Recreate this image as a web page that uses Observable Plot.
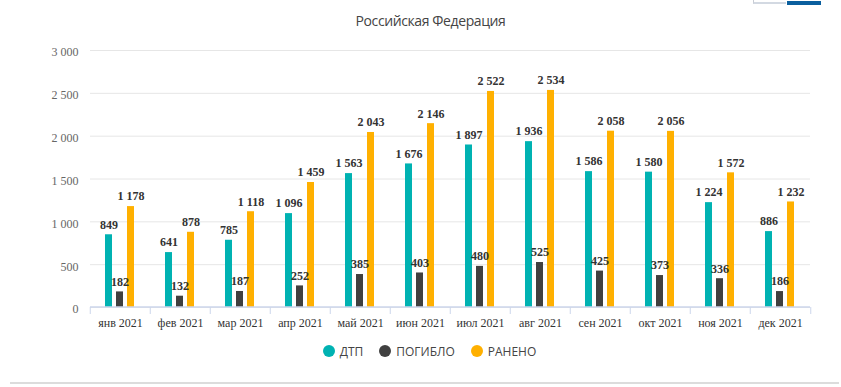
<!DOCTYPE html>
<html>
<head>
<meta charset="utf-8">
<script src="https://cdn.jsdelivr.net/npm/d3@7"></script>
<script src="https://cdn.jsdelivr.net/npm/@observablehq/plot@0.6"></script>
<style>
  body { margin: 0; background: #fff; width: 841px; height: 387px; position: relative; overflow: hidden; }
  #title { height: 30px; padding-top: 13px; padding-left: 20px; box-sizing: border-box; text-align: center;
           font: 14px "Open Sans", sans-serif; letter-spacing: -0.4px; color: #444; line-height: 16px; }
  #chart { position: absolute; left: 0; top: 30px; }
  #legend { position: absolute; left: 18px; right: 0; top: 340px; height: 22px; display: flex;
            justify-content: center; align-items: center; font: 12px "Open Sans", sans-serif; color: #444; }
  .item { display: flex; align-items: center; margin: 0 8px; }
  .dot { width: 12px; height: 12px; border-radius: 6px; margin-right: 5px; }
  #bottomline { position: absolute; left: 10px; width: 829px; top: 382px; height: 2px; background: #dcdcdc; }
  #btn1 { position: absolute; left: 753px; top: 0; width: 33px; height: 4px; border-left: 1px solid #c8ccd4; border-bottom: 2px solid #d3d9e2; box-sizing: border-box; }
  #btn2 { position: absolute; left: 787px; top: 1px; width: 34px; height: 4px; background: #0a5f9e; }
</style>
</head>
<body>
<div id="btn1"></div><div id="btn2"></div>
<div id="title">Российская Федерация</div>
<div id="chart"></div>
<div id="legend"></div>
<div id="bottomline"></div>
<script>
const months = ["янв 2021","фев 2021","мар 2021","апр 2021","май 2021","июн 2021","июл 2021","авг 2021","сен 2021","окт 2021","ноя 2021","дек 2021"];
const series = ["ДТП","ПОГИБЛО","РАНЕНО"];
const colors = ["#00b2b2","#404040","#ffb000"];
const dtp     = [849, 641, 785, 1096, 1563, 1676, 1897, 1936, 1586, 1580, 1224, 886];
const killed  = [182, 132, 187, 252, 385, 403, 480, 525, 425, 373, 336, 186];
const injured = [1178, 878, 1118, 1459, 2043, 2146, 2522, 2534, 2058, 2056, 1572, 1232];
const yTicks = [0, 500, 1000, 1500, 2000, 2500, 3000];

const values = [dtp, killed, injured];
const data = [];
months.forEach((m, i) => series.forEach((s, j) => data.push({month: m, series: s, value: values[j][i]})));

const fmt = d3.formatLocale({decimal: ",", thousands: " ", grouping: [3], currency: ["", ""]}).format(",d");

const W = 841, mL = 87, mR = 28;
const half = (W - mL - mR) / months.length / 2;

const chart = Plot.plot({
  width: W,
  height: 310,
  marginTop: 20,
  marginBottom: 33,
  marginLeft: mL,
  marginRight: mR,
  style: {fontFamily: "'Liberation Serif', serif", fontSize: "12px", background: "transparent"},
  fx: {domain: months, padding: 0, label: null},
  x: {domain: series, axis: null, paddingInner: 1/3, paddingOuter: 1.19},
  y: {domain: [0, 3000], label: null},
  color: {domain: series, range: colors},
  marks: [
    Plot.gridY(yTicks, {stroke: "#e6e6e6", strokeOpacity: 1}),
    Plot.axisY(yTicks, {tickSize: 0, tickPadding: 12, tickFormat: fmt, fill: "#666", fontSize: 12, dy: 2, label: null}),
    Plot.barY(data, {fx: "month", x: "series", y: "value", fill: "series"}),
    Plot.text(data, {fx: "month", x: "series", y: "value", text: d => fmt(d.value), dy: -10,
      fontWeight: "bold", fontSize: 12, fill: "#333"}),
    Plot.ruleY([0], {stroke: "#ccd6eb", strokeWidth: 1.5, dy: -0.5}),
    Plot.axisFx({anchor: "bottom", tickSize: 7, dx: -half, stroke: "#ccd6eb", tickFormat: () => "", label: null}),
    Plot.axisFx({anchor: "bottom", ticks: [months[months.length - 1]], tickSize: 7, dx: half, stroke: "#ccd6eb", tickFormat: () => "", label: null}),
    Plot.axisFx({anchor: "bottom", tickSize: 0, tickPadding: 11, fill: "#333", fontSize: 12, label: null})
  ]
});
document.getElementById("chart").appendChild(chart);

const legend = document.getElementById("legend");
series.forEach((s, j) => {
  const it = document.createElement("div");
  it.className = "item";
  const dot = document.createElement("div");
  dot.className = "dot";
  dot.style.background = colors[j];
  const t = document.createElement("span");
  t.textContent = s;
  it.appendChild(dot); it.appendChild(t);
  legend.appendChild(it);
});
</script>
</body>
</html>
